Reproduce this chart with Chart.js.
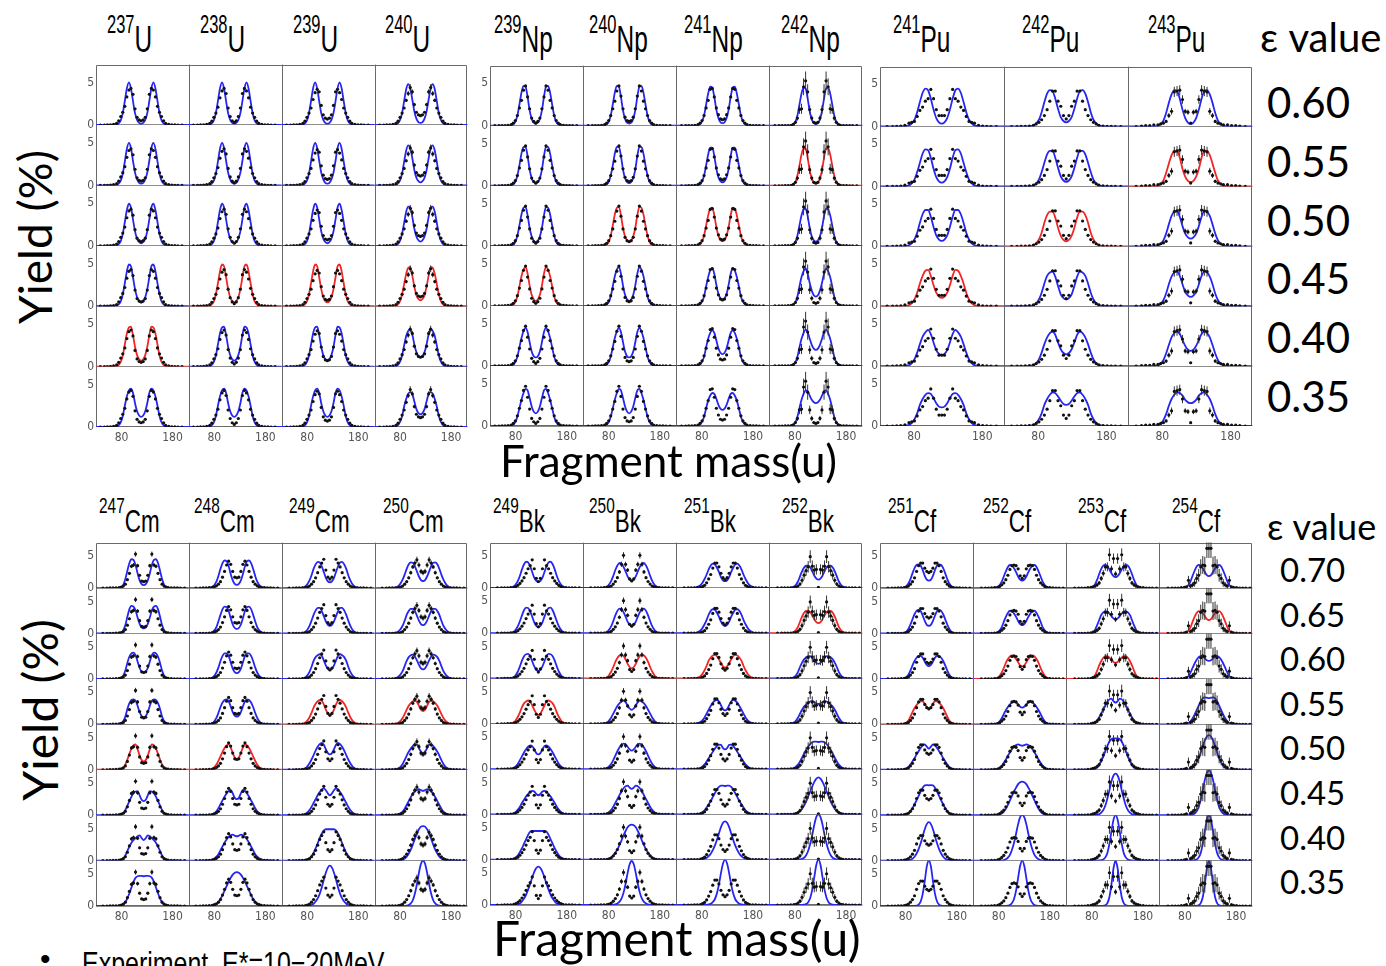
<!DOCTYPE html>
<html>
<head>
<meta charset="utf-8">
<script src="https://cdn.jsdelivr.net/npm/chart.js@4.4.1/dist/chart.umd.min.js"></script>
<style>
  body { margin: 0; background: #fff; }
  #page { position: relative; width: 1386px; height: 966px; overflow: hidden; background: #fff; }
  #page canvas { position: absolute; }
  .txt { position: absolute; white-space: nowrap; line-height: 1; color: #000; font-family: Lato, sans-serif; }
  .head { font-family: 'Liberation Sans', Arial, sans-serif; transform-origin: 0 0; }
  .head .mass { position: relative; }
</style>
</head>
<body>
<div id="page"></div>
<script>
// ---- data ----------------------------------------------------------------
// ε rows of the two blocks
const EPS_TOP = ['0.60', '0.55', '0.50', '0.45', '0.40', '0.35'];
const EPS_BOTTOM = ['0.70', '0.65', '0.60', '0.55', '0.50', '0.45', '0.40', '0.35'];

// nuclei of each group: [mass number, element]
const NUCLEI_U = [[237, 'U'], [238, 'U'], [239, 'U'], [240, 'U']];
const NUCLEI_NP = [[239, 'Np'], [240, 'Np'], [241, 'Np'], [242, 'Np']];
const NUCLEI_PU = [[241, 'Pu'], [242, 'Pu'], [243, 'Pu']];
const NUCLEI_CM = [[247, 'Cm'], [248, 'Cm'], [249, 'Cm'], [250, 'Cm']];
const NUCLEI_BK = [[249, 'Bk'], [250, 'Bk'], [251, 'Bk'], [252, 'Bk']];
const NUCLEI_CF = [[251, 'Cf'], [252, 'Cf'], [253, 'Cf'], [254, 'Cf']];

// ε that fits best (red curve)
const BEST_EPS = {
  '237U': '0.40', '238U': '0.45', '239U': '0.45', '240U': '0.45',
  '239Np': '0.45', '240Np': '0.50', '241Np': '0.50', '242Np': '0.55',
  '241Pu': '0.45', '242Pu': '0.50', '243Pu': '0.55',
  '247Cm': '0.50', '248Cm': '0.50', '249Cm': '0.55', '250Cm': '0.55',
  '249Bk': '0.55', '250Bk': '0.60', '251Bk': '0.60', '252Bk': '0.65',
  '251Cf': '0.55', '252Cf': '0.60', '253Cf': '0.60', '254Cf': '0.65'
};

const X_TICKS = [80, 180];
const Y_TICKS = [0, 5];
const X_MIN = 30, X_MAX = 212, Y_MAX = 7.1;

// yields are symmetric about A/2 (light and heavy fragment), so every
// profile is listed from the centre outward at these distances (u)
const FIT_OFFSETS = [0, 4, 8, 12, 16, 20, 24, 28, 32, 36, 40, 46, 54, 64];
const EXP_OFFSETS = [0, 4, 8, 12, 16, 20, 24, 28, 32, 36, 40, 44, 48, 54, 60, 66, 72, 80];

// calculated yields (%), one row per ε
const FIT_U = [
  [0.15, 0.25, 0.6, 1.4, 2.8, 4.3, 5.0, 4.3, 2.8, 1.4, 0.55, 0.1, 0, 0],
  [0.2, 0.3, 0.7, 1.5, 2.9, 4.4, 5.0, 4.3, 2.8, 1.4, 0.55, 0.1, 0, 0],
  [0.3, 0.45, 0.85, 1.7, 3.1, 4.5, 4.95, 4.2, 2.8, 1.4, 0.55, 0.1, 0, 0],
  [0.45, 0.6, 1.05, 2.0, 3.4, 4.7, 4.9, 4.1, 2.7, 1.4, 0.55, 0.1, 0, 0],
  [0.7, 0.85, 1.35, 2.3, 3.7, 4.7, 4.6, 3.9, 2.6, 1.3, 0.55, 0.1, 0, 0],
  [1.2, 1.35, 1.85, 2.8, 4.0, 4.5, 4.3, 3.6, 2.5, 1.3, 0.55, 0.1, 0, 0]
];
const FIT_240U = [
  [0.25, 0.35, 0.75, 1.6, 3.0, 4.3, 4.8, 4.2, 2.8, 1.4, 0.6, 0.12, 0, 0],
  [0.35, 0.5, 0.9, 1.8, 3.2, 4.4, 4.7, 4.1, 2.8, 1.4, 0.6, 0.12, 0, 0],
  [0.5, 0.65, 1.1, 2.0, 3.4, 4.5, 4.6, 4.0, 2.7, 1.4, 0.6, 0.12, 0, 0],
  [0.7, 0.85, 1.3, 2.3, 3.6, 4.6, 4.5, 3.8, 2.6, 1.4, 0.6, 0.12, 0, 0],
  [1.1, 1.25, 1.7, 2.6, 3.8, 4.4, 4.2, 3.6, 2.5, 1.3, 0.6, 0.12, 0, 0],
  [1.5, 1.65, 2.1, 3.0, 3.9, 4.1, 3.9, 3.3, 2.4, 1.3, 0.6, 0.12, 0, 0]
];
const FIT_NP = [
  [0.25, 0.35, 0.8, 1.8, 3.4, 4.6, 4.7, 3.9, 2.5, 1.2, 0.45, 0.08, 0, 0],
  [0.3, 0.45, 0.9, 1.9, 3.5, 4.6, 4.6, 3.8, 2.4, 1.2, 0.45, 0.08, 0, 0],
  [0.45, 0.6, 1.1, 2.1, 3.6, 4.6, 4.5, 3.7, 2.4, 1.2, 0.45, 0.08, 0, 0],
  [0.6, 0.75, 1.3, 2.4, 3.8, 4.6, 4.3, 3.5, 2.3, 1.1, 0.45, 0.08, 0, 0],
  [1.0, 1.15, 1.7, 2.8, 4.0, 4.5, 4.1, 3.3, 2.2, 1.1, 0.45, 0.08, 0, 0],
  [1.5, 1.7, 2.3, 3.3, 4.2, 4.4, 3.9, 3.1, 2.1, 1.1, 0.45, 0.08, 0, 0]
];
const FIT_241NP = [
  [0.3, 0.4, 0.9, 1.9, 3.4, 4.5, 4.6, 3.8, 2.5, 1.2, 0.5, 0.1, 0, 0],
  [0.4, 0.55, 1.0, 2.0, 3.5, 4.5, 4.5, 3.7, 2.4, 1.2, 0.5, 0.1, 0, 0],
  [0.55, 0.7, 1.2, 2.2, 3.6, 4.5, 4.4, 3.6, 2.4, 1.2, 0.5, 0.1, 0, 0],
  [0.75, 0.9, 1.4, 2.5, 3.8, 4.45, 4.2, 3.4, 2.3, 1.1, 0.5, 0.1, 0, 0],
  [1.4, 1.55, 2.1, 3.0, 3.9, 4.2, 3.9, 3.2, 2.2, 1.1, 0.5, 0.1, 0, 0],
  [1.9, 2.05, 2.5, 3.2, 3.8, 3.9, 3.6, 3.0, 2.1, 1.1, 0.5, 0.1, 0, 0]
];
const FIT_242NP = [
  [0.2, 0.3, 0.75, 1.7, 3.2, 4.4, 4.5, 3.8, 2.5, 1.2, 0.45, 0.1, 0, 0],
  [0.3, 0.4, 0.85, 1.8, 3.3, 4.4, 4.4, 3.7, 2.4, 1.2, 0.45, 0.1, 0, 0],
  [0.5, 0.65, 1.1, 2.1, 3.5, 4.4, 4.3, 3.6, 2.4, 1.2, 0.45, 0.1, 0, 0],
  [1.1, 1.25, 1.8, 2.7, 3.8, 4.4, 4.1, 3.4, 2.3, 1.1, 0.45, 0.1, 0, 0],
  [1.9, 2.05, 2.5, 3.2, 4.0, 4.3, 3.9, 3.2, 2.2, 1.1, 0.45, 0.1, 0, 0],
  [2.7, 2.8, 3.1, 3.6, 4.1, 4.2, 3.8, 3.1, 2.1, 1.1, 0.45, 0.1, 0, 0]
];
const FIT_241PU = [
  [0.35, 0.5, 1.0, 2.0, 3.3, 4.3, 4.5, 4.0, 2.9, 1.7, 0.8, 0.2, 0.03, 0],
  [0.45, 0.6, 1.1, 2.1, 3.4, 4.3, 4.4, 3.9, 2.8, 1.7, 0.8, 0.2, 0.03, 0],
  [0.65, 0.8, 1.3, 2.3, 3.5, 4.3, 4.3, 3.8, 2.8, 1.6, 0.8, 0.2, 0.03, 0],
  [1.0, 1.15, 1.6, 2.5, 3.6, 4.3, 4.2, 3.6, 2.7, 1.6, 0.8, 0.2, 0.03, 0],
  [1.3, 1.45, 1.9, 2.8, 3.8, 4.3, 4.0, 3.5, 2.6, 1.6, 0.8, 0.2, 0.03, 0],
  [2.2, 2.3, 2.7, 3.3, 3.8, 3.9, 3.7, 3.2, 2.5, 1.5, 0.8, 0.2, 0.03, 0]
];
const FIT_242PU = [
  [0.5, 0.65, 1.1, 2.1, 3.3, 4.2, 4.3, 3.9, 2.9, 1.7, 0.8, 0.2, 0.03, 0],
  [0.55, 0.7, 1.2, 2.2, 3.4, 4.2, 4.2, 3.8, 2.8, 1.7, 0.8, 0.2, 0.03, 0],
  [0.6, 0.75, 1.25, 2.2, 3.4, 4.1, 4.1, 3.7, 2.8, 1.6, 0.8, 0.2, 0.03, 0],
  [0.8, 0.95, 1.4, 2.4, 3.5, 4.1, 4.0, 3.6, 2.7, 1.6, 0.8, 0.2, 0.03, 0],
  [1.4, 1.55, 2.0, 2.8, 3.7, 4.1, 3.9, 3.4, 2.6, 1.6, 0.8, 0.2, 0.03, 0],
  [2.5, 2.6, 3.0, 3.5, 3.9, 4.0, 3.7, 3.2, 2.5, 1.5, 0.8, 0.2, 0.03, 0]
];
const FIT_243PU = [
  [0.3, 0.45, 1.0, 2.0, 3.3, 4.2, 4.3, 3.8, 2.8, 1.6, 0.7, 0.15, 0.02, 0],
  [0.5, 0.65, 1.15, 2.1, 3.4, 4.2, 4.2, 3.7, 2.7, 1.6, 0.7, 0.15, 0.02, 0],
  [0.9, 1.05, 1.5, 2.4, 3.5, 4.2, 4.1, 3.6, 2.6, 1.5, 0.7, 0.15, 0.02, 0],
  [1.1, 1.25, 1.7, 2.6, 3.6, 4.1, 4.0, 3.5, 2.6, 1.5, 0.7, 0.15, 0.02, 0],
  [1.8, 1.95, 2.4, 3.1, 3.8, 4.1, 3.9, 3.4, 2.5, 1.5, 0.7, 0.15, 0.02, 0],
  [2.7, 2.8, 3.1, 3.6, 3.9, 4.0, 3.7, 3.2, 2.4, 1.4, 0.7, 0.15, 0.02, 0]
];
const FIT_247CM = [
  [0.45, 0.6, 1.2, 2.3, 3.6, 4.4, 4.5, 3.9, 2.7, 1.4, 0.5, 0.05, 0, 0],
  [0.8, 0.95, 1.5, 2.5, 3.6, 4.2, 4.3, 3.8, 2.6, 1.3, 0.5, 0.05, 0, 0],
  [1.0, 1.15, 1.7, 2.7, 3.7, 4.1, 4.0, 3.5, 2.5, 1.3, 0.5, 0.05, 0, 0],
  [1.1, 1.3, 1.9, 2.9, 3.7, 3.9, 3.8, 3.3, 2.4, 1.2, 0.5, 0.05, 0, 0],
  [1.3, 1.5, 2.2, 3.2, 3.95, 3.8, 3.3, 2.5, 1.6, 0.8, 0.3, 0.05, 0, 0],
  [2.2, 2.4, 3.1, 3.75, 3.7, 3.4, 2.9, 2.2, 1.5, 0.8, 0.3, 0.05, 0, 0],
  [3.2, 3.5, 3.95, 3.8, 3.5, 3.2, 2.8, 2.2, 1.5, 0.8, 0.3, 0.05, 0, 0],
  [4.65, 4.7, 4.7, 4.65, 4.4, 3.8, 2.9, 2.0, 1.2, 0.6, 0.25, 0.05, 0, 0]
];
const FIT_248CM = [
  [0.5, 0.65, 1.2, 2.2, 3.4, 4.2, 4.3, 3.9, 3.0, 1.9, 1.0, 0.3, 0.05, 0],
  [0.7, 0.85, 1.4, 2.4, 3.5, 4.1, 4.2, 3.8, 2.9, 1.9, 1.0, 0.3, 0.05, 0],
  [0.9, 1.05, 1.6, 2.6, 3.6, 4.0, 4.0, 3.6, 2.8, 1.8, 1.0, 0.3, 0.05, 0],
  [1.2, 1.35, 1.9, 2.8, 3.6, 3.9, 3.8, 3.4, 2.7, 1.8, 1.0, 0.3, 0.05, 0],
  [1.7, 1.9, 2.6, 3.5, 3.95, 3.8, 3.4, 2.8, 2.1, 1.4, 0.8, 0.25, 0.05, 0],
  [2.5, 2.7, 3.4, 3.95, 3.8, 3.4, 2.9, 2.3, 1.7, 1.1, 0.6, 0.2, 0.05, 0],
  [3.8, 3.9, 4.05, 3.95, 3.7, 3.3, 2.8, 2.2, 1.6, 1.0, 0.6, 0.2, 0.05, 0],
  [5.3, 5.2, 4.9, 4.4, 3.8, 3.1, 2.4, 1.7, 1.1, 0.6, 0.3, 0.1, 0.02, 0]
];
const FIT_249CM = [
  [0.9, 1.05, 1.6, 2.5, 3.4, 4.0, 4.1, 3.7, 3.0, 2.0, 1.2, 0.4, 0.05, 0],
  [1.2, 1.35, 1.9, 2.7, 3.5, 4.0, 4.0, 3.6, 2.9, 2.0, 1.2, 0.4, 0.05, 0],
  [1.4, 1.55, 2.1, 2.9, 3.6, 3.85, 3.7, 3.4, 2.8, 1.9, 1.1, 0.4, 0.05, 0],
  [1.5, 1.7, 2.3, 3.1, 3.7, 3.8, 3.6, 3.2, 2.6, 1.8, 1.1, 0.4, 0.05, 0],
  [2.4, 2.6, 3.2, 3.9, 4.2, 4.0, 3.6, 3.0, 2.3, 1.6, 1.0, 0.35, 0.05, 0],
  [3.1, 3.4, 3.9, 4.2, 4.0, 3.6, 3.1, 2.5, 1.9, 1.3, 0.8, 0.3, 0.05, 0],
  [4.9, 4.9, 4.9, 4.7, 4.2, 3.5, 2.7, 1.9, 1.2, 0.7, 0.35, 0.1, 0.02, 0],
  [6.3, 6.0, 5.2, 4.1, 2.9, 1.9, 1.2, 0.7, 0.35, 0.15, 0.05, 0.02, 0, 0]
];
const FIT_250CM = [
  [1.1, 1.25, 1.8, 2.6, 3.4, 3.95, 4.0, 3.7, 3.0, 2.1, 1.3, 0.5, 0.08, 0],
  [1.3, 1.45, 2.0, 2.8, 3.5, 3.85, 3.85, 3.5, 2.9, 2.0, 1.2, 0.5, 0.08, 0],
  [1.5, 1.65, 2.2, 2.9, 3.5, 3.8, 3.7, 3.4, 2.8, 2.0, 1.2, 0.5, 0.08, 0],
  [2.1, 2.3, 2.9, 3.5, 3.7, 3.6, 3.3, 2.9, 2.3, 1.6, 1.0, 0.4, 0.07, 0],
  [2.6, 2.8, 3.4, 3.9, 3.95, 3.7, 3.3, 2.8, 2.2, 1.5, 0.9, 0.3, 0.05, 0],
  [3.8, 3.9, 4.05, 3.95, 3.7, 3.3, 2.8, 2.2, 1.6, 1.0, 0.55, 0.2, 0.03, 0],
  [5.4, 5.3, 4.9, 4.2, 3.4, 2.5, 1.7, 1.1, 0.6, 0.3, 0.12, 0.03, 0, 0],
  [7.1, 6.6, 5.2, 3.4, 1.9, 0.9, 0.4, 0.15, 0.05, 0.02, 0, 0, 0, 0]
];
const FIT_249BK = [
  [0.95, 1.1, 1.6, 2.5, 3.4, 4.0, 4.1, 3.7, 2.9, 1.9, 1.1, 0.35, 0.05, 0],
  [1.0, 1.15, 1.7, 2.6, 3.4, 3.95, 4.0, 3.6, 2.8, 1.9, 1.1, 0.35, 0.05, 0],
  [1.2, 1.35, 1.9, 2.7, 3.5, 3.85, 3.8, 3.5, 2.8, 1.9, 1.1, 0.35, 0.05, 0],
  [1.4, 1.6, 2.2, 2.9, 3.5, 3.65, 3.5, 3.2, 2.6, 1.8, 1.1, 0.35, 0.05, 0],
  [2.3, 2.5, 3.1, 3.6, 3.7, 3.5, 3.1, 2.6, 2.0, 1.4, 0.85, 0.3, 0.05, 0],
  [3.0, 3.2, 3.6, 3.7, 3.5, 3.2, 2.8, 2.3, 1.8, 1.2, 0.75, 0.25, 0.04, 0],
  [4.5, 4.5, 4.5, 4.5, 4.4, 3.9, 3.2, 2.5, 1.8, 1.2, 0.7, 0.25, 0.04, 0],
  [6.0, 5.8, 5.2, 4.3, 3.3, 2.4, 1.6, 1.0, 0.55, 0.25, 0.1, 0.03, 0, 0]
];
const FIT_250BK = [
  [1.15, 1.3, 1.8, 2.6, 3.3, 3.8, 3.9, 3.5, 2.8, 1.9, 1.1, 0.35, 0.05, 0],
  [1.15, 1.3, 1.8, 2.6, 3.3, 3.8, 3.85, 3.5, 2.8, 1.9, 1.1, 0.35, 0.05, 0],
  [1.6, 1.8, 2.3, 3.0, 3.55, 3.75, 3.6, 3.2, 2.6, 1.8, 1.1, 0.35, 0.05, 0],
  [2.2, 2.4, 2.9, 3.4, 3.65, 3.5, 3.2, 2.8, 2.2, 1.6, 1.0, 0.35, 0.05, 0],
  [2.9, 3.1, 3.5, 3.9, 4.0, 3.8, 3.4, 2.8, 2.1, 1.4, 0.85, 0.3, 0.05, 0],
  [4.0, 4.2, 4.5, 4.4, 4.1, 3.6, 3.0, 2.4, 1.8, 1.2, 0.7, 0.25, 0.04, 0],
  [5.5, 5.4, 5.1, 4.5, 3.8, 3.0, 2.3, 1.6, 1.1, 0.65, 0.35, 0.1, 0.02, 0],
  [6.9, 6.4, 5.0, 3.3, 1.9, 1.0, 0.5, 0.25, 0.1, 0.04, 0, 0, 0, 0]
];
const FIT_251BK = [
  [1.05, 1.2, 1.7, 2.5, 3.2, 3.7, 3.8, 3.5, 2.9, 2.1, 1.4, 0.6, 0.15, 0],
  [1.15, 1.3, 1.8, 2.6, 3.2, 3.7, 3.75, 3.5, 2.9, 2.1, 1.4, 0.6, 0.15, 0],
  [1.7, 1.9, 2.4, 3.0, 3.5, 3.7, 3.6, 3.3, 2.8, 2.0, 1.3, 0.55, 0.12, 0],
  [2.1, 2.3, 2.9, 3.5, 3.8, 3.6, 3.3, 2.8, 2.2, 1.6, 1.0, 0.4, 0.08, 0],
  [3.1, 3.3, 3.8, 3.85, 3.6, 3.2, 2.7, 2.2, 1.7, 1.2, 0.75, 0.3, 0.05, 0],
  [4.45, 4.5, 4.5, 4.3, 3.9, 3.3, 2.7, 2.1, 1.6, 1.1, 0.65, 0.25, 0.04, 0],
  [6.0, 5.8, 5.1, 4.1, 3.1, 2.2, 1.5, 0.95, 0.55, 0.3, 0.12, 0.03, 0, 0],
  [7.1, 6.5, 5.0, 3.2, 1.8, 0.9, 0.45, 0.2, 0.08, 0.03, 0, 0, 0, 0]
];
const FIT_252BK = [
  [1.3, 1.45, 1.9, 2.6, 3.2, 3.5, 3.5, 3.2, 2.6, 1.8, 1.0, 0.3, 0.05, 0],
  [1.6, 1.75, 2.2, 2.8, 3.3, 3.55, 3.5, 3.2, 2.6, 1.8, 1.0, 0.3, 0.05, 0],
  [2.3, 2.45, 2.8, 3.2, 3.5, 3.5, 3.3, 3.0, 2.5, 1.8, 1.0, 0.3, 0.05, 0],
  [3.1, 3.2, 3.4, 3.6, 3.5, 3.3, 3.0, 2.7, 2.2, 1.6, 0.95, 0.3, 0.05, 0],
  [4.25, 4.3, 4.3, 4.2, 3.9, 3.5, 3.0, 2.4, 1.8, 1.2, 0.7, 0.25, 0.04, 0],
  [5.8, 5.6, 5.1, 4.4, 3.6, 2.8, 2.0, 1.4, 0.9, 0.5, 0.25, 0.08, 0.01, 0],
  [7.1, 6.7, 5.5, 3.9, 2.5, 1.4, 0.7, 0.3, 0.12, 0.05, 0.02, 0, 0, 0],
  [7.1, 6.3, 4.4, 2.4, 1.1, 0.45, 0.15, 0.05, 0.02, 0, 0, 0, 0, 0]
];
const FIT_251CF = [
  [1.15, 1.3, 1.9, 2.8, 3.5, 3.7, 3.6, 3.1, 2.3, 1.4, 0.7, 0.15, 0.02, 0],
  [1.2, 1.35, 1.95, 2.8, 3.5, 3.7, 3.55, 3.0, 2.2, 1.4, 0.7, 0.15, 0.02, 0],
  [2.0, 2.2, 2.7, 3.3, 3.6, 3.55, 3.3, 2.8, 2.1, 1.3, 0.65, 0.15, 0.02, 0],
  [2.5, 2.7, 3.2, 3.6, 3.6, 3.4, 3.0, 2.5, 1.9, 1.2, 0.6, 0.15, 0.02, 0],
  [3.3, 3.6, 3.95, 3.8, 3.4, 2.9, 2.4, 1.8, 1.3, 0.8, 0.4, 0.1, 0.02, 0],
  [4.65, 4.7, 4.65, 4.3, 3.7, 3.0, 2.3, 1.7, 1.1, 0.65, 0.3, 0.08, 0.01, 0],
  [6.0, 5.7, 4.9, 3.8, 2.7, 1.8, 1.1, 0.6, 0.3, 0.12, 0.04, 0.01, 0, 0],
  [7.1, 6.2, 3.9, 1.9, 0.7, 0.22, 0.06, 0.02, 0, 0, 0, 0, 0, 0]
];
const FIT_252CF = [
  [1.15, 1.3, 1.8, 2.5, 3.1, 3.5, 3.6, 3.3, 2.6, 1.8, 1.0, 0.3, 0.05, 0],
  [1.3, 1.45, 1.95, 2.6, 3.1, 3.5, 3.55, 3.2, 2.6, 1.8, 1.0, 0.3, 0.05, 0],
  [1.95, 2.1, 2.6, 3.1, 3.5, 3.65, 3.5, 3.1, 2.5, 1.7, 1.0, 0.3, 0.05, 0],
  [2.6, 2.75, 3.1, 3.4, 3.5, 3.4, 3.1, 2.7, 2.2, 1.6, 0.95, 0.3, 0.05, 0],
  [3.75, 3.85, 3.95, 3.85, 3.6, 3.2, 2.7, 2.2, 1.6, 1.1, 0.6, 0.2, 0.03, 0],
  [5.25, 5.15, 4.85, 4.3, 3.7, 3.0, 2.3, 1.6, 1.0, 0.55, 0.25, 0.06, 0.01, 0],
  [7.1, 6.8, 5.7, 4.2, 2.8, 1.7, 0.9, 0.45, 0.2, 0.08, 0.03, 0, 0, 0],
  [7.1, 6.3, 4.4, 2.4, 1.1, 0.45, 0.15, 0.05, 0.02, 0, 0, 0, 0, 0]
];
const FIT_253CF = [
  [1.7, 1.85, 2.3, 2.9, 3.4, 3.6, 3.5, 3.0, 2.2, 1.3, 0.6, 0.1, 0.01, 0],
  [2.2, 2.35, 2.7, 3.1, 3.4, 3.5, 3.3, 2.9, 2.1, 1.3, 0.6, 0.1, 0.01, 0],
  [2.5, 2.65, 3.0, 3.3, 3.55, 3.55, 3.3, 2.8, 2.1, 1.3, 0.6, 0.1, 0.01, 0],
  [3.4, 3.6, 4.0, 3.9, 3.5, 2.9, 2.3, 1.7, 1.1, 0.6, 0.25, 0.05, 0, 0],
  [4.9, 4.9, 4.8, 4.4, 3.7, 2.9, 2.1, 1.4, 0.8, 0.4, 0.15, 0.03, 0, 0],
  [6.5, 6.2, 5.3, 3.9, 2.6, 1.5, 0.8, 0.4, 0.15, 0.05, 0.02, 0, 0, 0],
  [7.1, 6.4, 4.6, 2.6, 1.2, 0.5, 0.18, 0.06, 0.02, 0, 0, 0, 0, 0],
  [7.1, 5.9, 3.4, 1.4, 0.45, 0.12, 0.03, 0, 0, 0, 0, 0, 0, 0]
];
const FIT_254CF = [
  [1.85, 2.0, 2.5, 3.1, 3.5, 3.6, 3.35, 2.7, 1.9, 1.05, 0.45, 0.08, 0.01, 0],
  [2.1, 2.25, 2.7, 3.2, 3.45, 3.5, 3.2, 2.6, 1.8, 1.0, 0.45, 0.08, 0.01, 0],
  [2.8, 2.9, 3.2, 3.5, 3.6, 3.4, 3.0, 2.4, 1.7, 1.0, 0.4, 0.08, 0.01, 0],
  [4.1, 4.15, 4.2, 4.05, 3.6, 2.9, 2.2, 1.5, 0.9, 0.45, 0.18, 0.03, 0, 0],
  [5.4, 5.2, 4.6, 3.7, 2.7, 1.8, 1.1, 0.6, 0.3, 0.12, 0.04, 0, 0, 0],
  [7.0, 6.6, 5.5, 3.9, 2.4, 1.3, 0.6, 0.25, 0.08, 0.03, 0, 0, 0, 0],
  [7.1, 6.4, 4.6, 2.6, 1.2, 0.5, 0.18, 0.06, 0.02, 0, 0, 0, 0, 0],
  [7.1, 5.9, 3.4, 1.4, 0.45, 0.12, 0.03, 0, 0, 0, 0, 0, 0, 0]
];
const FIT = {
  '237U': FIT_U, '238U': FIT_U, '239U': FIT_U, '240U': FIT_240U,
  '239Np': FIT_NP, '240Np': FIT_NP, '241Np': FIT_241NP, '242Np': FIT_242NP,
  '241Pu': FIT_241PU, '242Pu': FIT_242PU, '243Pu': FIT_243PU,
  '247Cm': FIT_247CM, '248Cm': FIT_248CM, '249Cm': FIT_249CM, '250Cm': FIT_250CM,
  '249Bk': FIT_249BK, '250Bk': FIT_250BK, '251Bk': FIT_251BK, '252Bk': FIT_252BK,
  '251Cf': FIT_251CF, '252Cf': FIT_252CF, '253Cf': FIT_253CF, '254Cf': FIT_254CF
};

// experimental yields (%), E* = 10-20 MeV, same in every ε row
const EXP = {
  '237U': [0.5, 0.6, 0.9, 1.9, 3.6, 4.3, 4.1, 3.3, 2.2, 1.5, 1.0, 0.5, 0.2, 0.08, 0.03, 0.01, 0, 0],
  '238U': [0.3, 0.5, 1.0, 2.0, 3.7, 4.3, 4.0, 3.2, 2.1, 1.4, 0.9, 0.45, 0.2, 0.08, 0.03, 0.01, 0, 0],
  '239U': [0.7, 0.8, 1.2, 2.3, 3.9, 4.2, 3.8, 3.0, 2.0, 1.4, 0.9, 0.45, 0.2, 0.08, 0.03, 0.01, 0, 0],
  '240U': [1.1, 1.2, 1.5, 2.4, 3.9, 4.4, 3.7, 2.9, 2.0, 1.4, 0.9, 0.45, 0.2, 0.08, 0.03, 0.01, 0, 0],
  '239Np': [0.3, 0.5, 0.9, 2.0, 3.4, 4.7, 4.2, 3.0, 2.1, 1.2, 0.6, 0.3, 0.12, 0.05, 0.02, 0.01, 0, 0],
  '240Np': [0.5, 0.6, 1.0, 2.0, 3.5, 4.7, 4.1, 2.9, 2.0, 1.2, 0.6, 0.3, 0.12, 0.05, 0.02, 0.01, 0, 0],
  '241Np': [0.7, 0.8, 1.3, 2.1, 3.4, 4.4, 4.3, 3.0, 2.1, 1.2, 0.6, 0.3, 0.12, 0.05, 0.02, 0.01, 0, 0],
  '242Np': [0.3, 0.4, 0.9, 1.9, 4.0, 5.3, 4.6, 2.0, 1.9, 0.9, 0.4, 0.15, 0.05, 0.02, 0.01, 0, 0, 0],
  '241Pu': [1.3, 1.3, 2.0, 3.3, 4.4, 3.3, 3.0, 2.3, 1.9, 1.2, 0.6, 0.5, 0.4, 0.15, 0.05, 0.02, 0, 0],
  '242Pu': [0.9, 1.3, 2.4, 3.0, 4.2, 4.2, 3.0, 2.0, 1.3, 0.8, 0.5, 0.3, 0.15, 0.06, 0.03, 0.01, 0, 0],
  '243Pu': [0.4, 1.7, 1.8, 3.2, 4.3, 4.2, 4.1, 1.8, 1.3, 0.6, 0.4, 0.3, 0.2, 0.2, 0.1, 0.1, 0.05, 0],
  '247Cm': [1.0, 1.1, 2.0, 3.5, 5.3, 3.6, 3.4, 2.3, 1.3, 0.6, 0.3, 0.15, 0.08, 0.04, 0.02, 0.01, 0, 0],
  '248Cm': [1.6, 1.7, 2.6, 3.7, 4.2, 3.6, 2.6, 1.7, 1.0, 0.6, 0.35, 0.2, 0.1, 0.05, 0.02, 0.01, 0, 0],
  '249Cm': [1.4, 1.7, 2.8, 4.5, 3.9, 3.3, 2.4, 1.6, 1.0, 0.6, 0.3, 0.15, 0.08, 0.04, 0.02, 0.01, 0, 0],
  '250Cm': [2.4, 2.6, 3.6, 4.4, 3.9, 3.3, 2.4, 1.6, 1.0, 0.6, 0.3, 0.15, 0.08, 0.04, 0.02, 0.01, 0, 0],
  '249Bk': [1.0, 1.5, 3.0, 4.4, 3.5, 3.0, 2.3, 1.6, 1.1, 0.7, 0.4, 0.2, 0.1, 0.04, 0.02, 0.01, 0, 0],
  '250Bk': [1.1, 1.4, 2.8, 3.7, 5.1, 3.7, 2.5, 1.6, 1.0, 0.6, 0.3, 0.15, 0.07, 0.03, 0.01, 0, 0, 0],
  '251Bk': [1.3, 1.6, 2.3, 3.3, 3.9, 3.9, 3.1, 2.1, 1.4, 0.8, 0.4, 0.2, 0.08, 0.03, 0.01, 0, 0, 0],
  '252Bk': [0.1, 2.9, 2.8, 3.4, 4.9, 3.3, 2.7, 2.0, 1.2, 0.6, 0.3, 0.12, 0.05, 0.02, 0, 0, 0, 0],
  '251Cf': [2.4, 2.6, 3.1, 3.9, 3.9, 3.5, 2.6, 1.6, 1.0, 0.6, 0.3, 0.15, 0.07, 0.03, 0.01, 0, 0, 0],
  '252Cf': [1.5, 1.9, 3.0, 3.5, 3.6, 3.5, 2.9, 2.0, 1.3, 0.8, 0.5, 0.25, 0.1, 0.05, 0.02, 0, 0, 0],
  '253Cf': [2.2, 4.6, 3.0, 5.2, 3.3, 3.3, 2.3, 1.5, 0.8, 0.5, 0.3, 0.2, 0.1, 0.05, 0, 0, 0, 0],
  '254Cf': [6.2, 6.2, 3.5, 3.6, 3.3, 2.0, 1.5, 0.8, 0.5, 0.3, 1.2, 0.2, 0.1, 0.05, 0, 0, 0, 0]
};
// experimental uncertainties (%), only where they show
const EXP_ERR = {
  '240U': [0.1, 0.1, 0.1, 0.2, 0.3, 0.4, 0.3, 0.2, 0.1, 0.1, 0, 0, 0, 0, 0, 0, 0, 0],
  '242Np': [0.1, 0.1, 0.3, 0.5, 0.9, 1.1, 1.0, 0.6, 0.5, 0.3, 0.1, 0, 0, 0, 0, 0, 0, 0],
  '243Pu': [0.1, 0.3, 0.3, 0.5, 0.6, 0.6, 0.6, 0.4, 0.3, 0.2, 0.1, 0.1, 0, 0, 0, 0, 0, 0],
  '247Cm': [0.1, 0.1, 0.2, 0.3, 0.4, 0.3, 0.3, 0.2, 0.1, 0, 0, 0, 0, 0, 0, 0, 0, 0],
  '250Cm': [0.4, 0.4, 0.4, 0.5, 0.4, 0.3, 0.3, 0.2, 0.1, 0, 0, 0, 0, 0, 0, 0, 0, 0],
  '250Bk': [0.1, 0.2, 0.3, 0.4, 0.5, 0.4, 0.3, 0.2, 0.1, 0, 0, 0, 0, 0, 0, 0, 0, 0],
  '252Bk': [0.1, 0.8, 0.8, 0.9, 1.0, 0.9, 0.8, 0.7, 0.5, 0.3, 0.2, 0.1, 0, 0, 0, 0, 0, 0],
  '253Cf': [0.4, 0.8, 0.5, 1.0, 0.7, 0.6, 0.5, 0.4, 0.3, 0.3, 0.2, 0, 0, 0, 0, 0, 0, 0],
  '254Cf': [1.5, 1.5, 1.4, 1.4, 1.2, 1.0, 0.8, 0.6, 0.4, 0.3, 0.7, 0, 0, 0, 0, 0, 0, 0]
};

// ---- layout ---------------------------------------------------------------
const BLUE = '#2626f2';
const RED = '#f22626';
const FRAME = '#6a6a6a';
const Y_AXIS_W = 14, X_AXIS_H = 20;
const TICK_FONT = { family: "'Liberation Sans Narrow','DejaVu Sans Condensed','Liberation Sans',sans-serif", size: 12 };

const GROUPS = [
  { nuclei: NUCLEI_U, eps: EPS_TOP, box: [96, 64, 468, 427] },
  { nuclei: NUCLEI_NP, eps: EPS_TOP, box: [490, 65, 863, 426] },
  { nuclei: NUCLEI_PU, eps: EPS_TOP, box: [880, 66, 1253, 426] },
  { nuclei: NUCLEI_CM, eps: EPS_BOTTOM, box: [96, 542, 468, 906] },
  { nuclei: NUCLEI_BK, eps: EPS_BOTTOM, box: [490, 542, 863, 905] },
  { nuclei: NUCLEI_CF, eps: EPS_BOTTOM, box: [880, 542, 1253, 906] }
];
const HEAD_X_TOP = [107, 200, 293, 385, 494, 589, 684, 781, 893, 1022, 1148];
const HEAD_X_BOTTOM = [99, 194, 289, 383, 493, 589, 684, 782, 888, 983, 1078, 1172];

const page = document.getElementById('page');

function mirror(centre, offsets, values) {
  const pts = [];
  for (let i = offsets.length - 1; i > 0; i--) pts.push({ x: centre - offsets[i], y: values[i] });
  for (let i = 0; i < offsets.length; i++) pts.push({ x: centre + offsets[i], y: values[i] });
  return pts;
}

function fitCurve(centre, profile) {
  // the curve runs flat at zero out to both ends of the cell
  return [{ x: X_MIN, y: 0 }].concat(mirror(centre, FIT_OFFSETS, profile), [{ x: X_MAX, y: 0 }]);
}

function errorSegments(centre, values, errs) {
  const v = mirror(centre, EXP_OFFSETS, values);
  const e = mirror(centre, EXP_OFFSETS, errs);
  const out = [];
  v.forEach((p, i) => {
    if (e[i].y > 0) {
      out.push({ x: p.x, y: Math.max(0, p.y - e[i].y) }, { x: p.x, y: p.y + e[i].y }, { x: p.x, y: null });
    }
  });
  return out;
}

// frame and column separators of a group, taken from its stacked scales
const cellFrame = {
  id: 'cellFrame',
  beforeDatasetsDraw(chart) {
    const { ctx, chartArea: a } = chart;
    ctx.save();
    ctx.strokeStyle = FRAME;
    ctx.lineWidth = 1;
    ctx.beginPath();
    Object.values(chart.scales).forEach(s => {
      if (s.axis === 'x' && s.right < a.right - 2) {
        const x = Math.round(s.right) + 0.5;
        ctx.moveTo(x, a.top);
        ctx.lineTo(x, a.bottom);
      }
    });
    ctx.rect(Math.round(a.left) + 0.5, Math.round(a.top) + 0.5, Math.round(a.width) - 1, Math.round(a.height) - 1);
    ctx.stroke();
    ctx.restore();
  }
};

function zeroPadding(ax) {
  ax.paddingTop = 0; ax.paddingBottom = 0; ax.paddingLeft = 0; ax.paddingRight = 0;
}

function buildGroup(g) {
  const [left, top, right, bottom] = g.box;
  const canvas = document.createElement('canvas');
  const w = right - left + Y_AXIS_W + 1;
  const h = bottom - top + X_AXIS_H + 1;
  canvas.width = w; canvas.height = h;
  canvas.style.left = (left - Y_AXIS_W) + 'px';
  canvas.style.top = (top - 1) + 'px';
  canvas.style.width = w + 'px';
  canvas.style.height = h + 'px';
  page.appendChild(canvas);

  const scales = {};
  g.nuclei.forEach((n, c) => {
    scales['x' + c] = {
      type: 'linear', axis: 'x', position: 'bottom', stack: 'cols', weight: c,
      min: X_MIN, max: X_MAX,
      afterBuildTicks: ax => { ax.ticks = X_TICKS.map(v => ({ value: v })); },
      afterFit: ax => { ax.height = X_AXIS_H; zeroPadding(ax); },
      grid: { display: false, drawTicks: false },
      border: { display: false },
      ticks: { color: '#555', font: TICK_FONT, padding: 4, maxRotation: 0, autoSkip: false }
    };
  });
  g.eps.forEach((e, r) => {
    scales['y' + r] = {
      type: 'linear', axis: 'y', position: 'left', stack: 'rows', weight: g.eps.length - r,
      min: 0, max: Y_MAX,
      afterBuildTicks: ax => { ax.ticks = Y_TICKS.map(v => ({ value: v })); },
      afterFit: ax => { ax.width = Y_AXIS_W; zeroPadding(ax); },
      grid: {
        drawTicks: false,
        color: ctx => (ctx.tick && ctx.tick.value === 0) ? '#8c8c8c' : 'rgba(0,0,0,0)'
      },
      border: { display: false },
      ticks: { color: '#555', font: TICK_FONT, padding: 2 }
    };
  });

  const datasets = [];
  g.eps.forEach((eps, r) => {
    g.nuclei.forEach(([mass, sym], c) => {
      const key = mass + sym;
      const centre = mass / 2;
      const ids = { xAxisID: 'x' + c, yAxisID: 'y' + r };
      datasets.push(Object.assign({
        data: mirror(centre, EXP_OFFSETS, EXP[key]),
        showLine: false, pointRadius: 1.6, pointHoverRadius: 0,
        pointBackgroundColor: '#111', pointBorderWidth: 0
      }, ids));
      if (EXP_ERR[key]) {
        datasets.push(Object.assign({
          data: errorSegments(centre, EXP[key], EXP_ERR[key]),
          borderColor: '#333', borderWidth: 1, pointRadius: 0, spanGaps: false, tension: 0
        }, ids));
      }
      datasets.push(Object.assign({
        data: fitCurve(centre, FIT[key][r]),
        borderColor: BEST_EPS[key] === eps ? RED : BLUE,
        borderWidth: 1.8, pointRadius: 0, cubicInterpolationMode: 'monotone'
      }, ids));
    });
  });

  new Chart(canvas, {
    type: 'line',
    data: { datasets },
    options: {
      responsive: false, animation: false, events: [],
      layout: { padding: { top: 1, right: 1, left: 0, bottom: 0 } },
      plugins: { legend: { display: false }, tooltip: { enabled: false } },
      scales
    },
    plugins: [cellFrame]
  });
}

GROUPS.forEach(buildGroup);

// ---- text -----------------------------------------------------------------
function addText(html, css, cls) {
  const d = document.createElement('div');
  d.className = 'txt' + (cls ? ' ' + cls : '');
  d.innerHTML = html;
  Object.assign(d.style, css);
  page.appendChild(d);
  return d;
}

[].concat(NUCLEI_U, NUCLEI_NP, NUCLEI_PU).forEach(([m, s], i) => {
  addText(`<span class="mass" style="font-size:25px;top:-19px">${m}</span>${s}`,
    { left: HEAD_X_TOP[i] + 'px', top: '21px', fontSize: '37px', transform: 'scaleX(0.66)' }, 'head');
});
[].concat(NUCLEI_CM, NUCLEI_BK, NUCLEI_CF).forEach(([m, s], i) => {
  addText(`<span class="mass" style="font-size:22px;top:-19px">${m}</span>${s}`,
    { left: HEAD_X_BOTTOM[i] + 'px', top: '505px', fontSize: '32px', transform: 'scaleX(0.7)' }, 'head');
});

addText('ε value', { left: '1260px', top: '17px', fontSize: '40px' });
EPS_TOP.forEach((e, r) => {
  addText(e, { left: '1267px', top: (118 + 58.8 * r - 37) + 'px', fontSize: '42px' });
});
addText('ε value', { left: '1267px', top: '508px', fontSize: '36px' });
EPS_BOTTOM.forEach((e, r) => {
  addText(e, { left: '1280px', top: (582 + 44.6 * r - 29) + 'px', fontSize: '33px' });
});

addText('Yield (%)', { left: '35px', top: '237px', fontSize: '46px', transform: 'translate(-50%,-50%) rotate(-90deg)' });
addText('Yield (%)', { left: '40px', top: '710px', fontSize: '48px', transform: 'translate(-50%,-50%) rotate(-90deg)' });
addText('Fragment mass(u)', { left: '500px', top: '438px', fontSize: '44px' });
addText('Fragment mass(u)', { left: '493px', top: '914px', fontSize: '48px' });

addText('•', { left: '40px', top: '944px', fontSize: '30px', fontFamily: "'Liberation Sans', sans-serif" });
addText('Experiment&nbsp;&nbsp;E*=10−20MeV',
  { left: '82px', top: '947px', fontSize: '32px', transform: 'scaleX(0.78)' }, 'head');
</script>
</body>
</html>
